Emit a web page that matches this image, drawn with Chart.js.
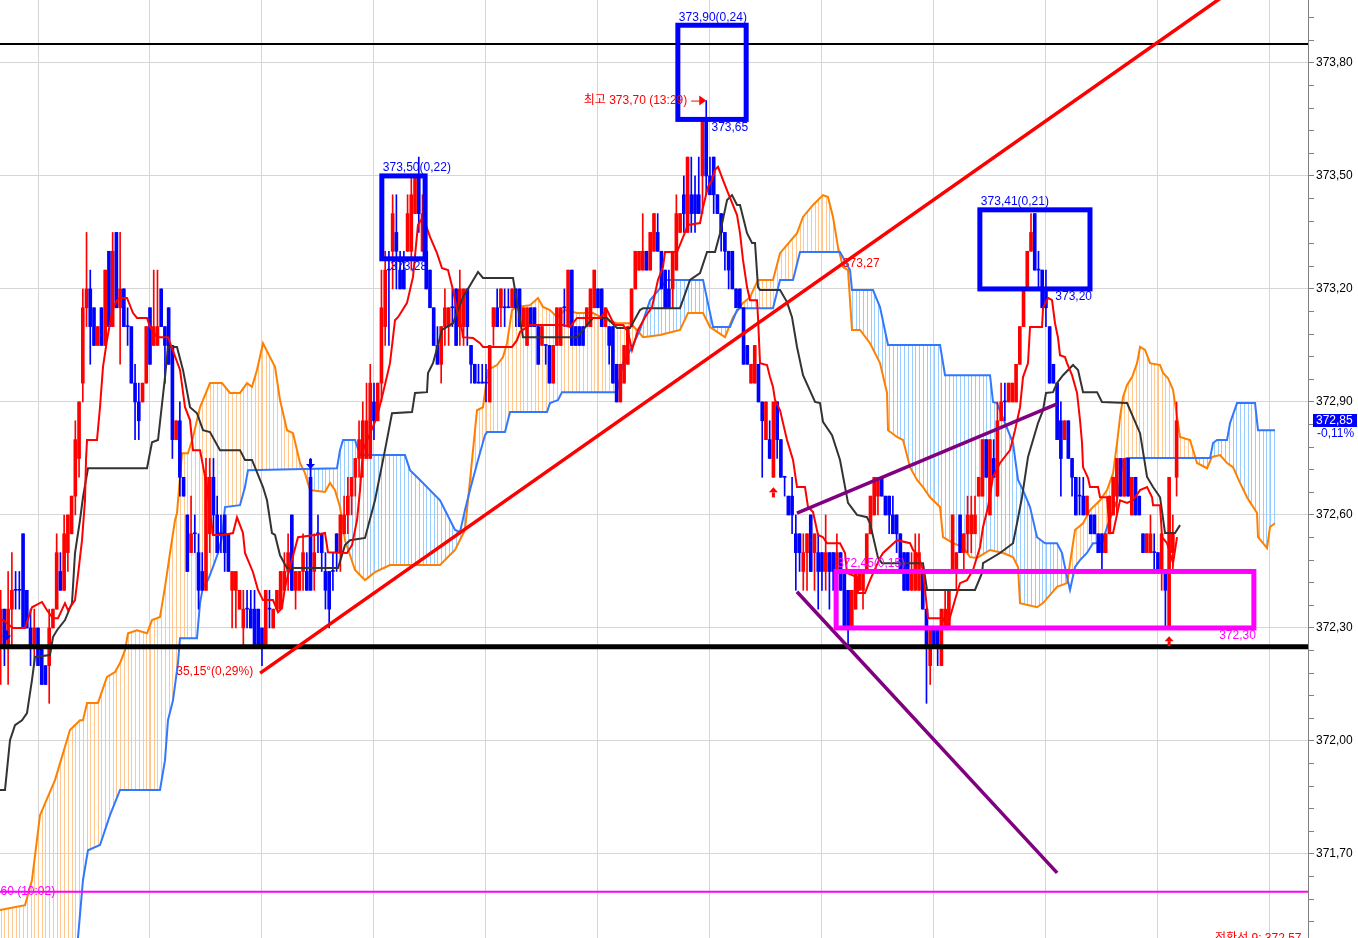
<!DOCTYPE html>
<html>
<head>
<meta charset="utf-8">
<script src="https://cdn.jsdelivr.net/npm/chart.js@4.4.1/dist/chart.umd.min.js"></script>
<style>
  html, body { margin: 0; padding: 0; background: #fff; overflow: hidden; }
  #wrap { width: 1358px; height: 938px; position: relative; }
</style>
</head>
<body>
<div id="wrap"><canvas id="chart"></canvas></div>
<script>
// one bar per minute, bar 0 = 10:20, vertical grid every 30 bars
const opens = [
  372.25,372.35,372.25,372.35,372.40,372.40,372.55,372.40,372.30,372.25,
  372.30,372.25,372.20,372.20,372.30,372.35,372.45,372.40,372.50,372.55,
  372.65,372.75,372.95,373.15,373.20,373.15,373.05,373.15,373.05,373.30,
  373.10,373.35,373.15,373.20,373.10,373.10,372.95,372.90,372.90,372.95,
  373.15,373.05,373.05,373.20,373.10,373.15,373.05,372.80,372.85,372.70,
  372.60,372.50,372.55,372.50,372.45,372.40,372.55,372.70,372.60,372.55,
  372.60,372.55,372.40,372.40,372.35,372.30,372.35,372.35,372.35,372.35,
  372.30,372.25,372.35,372.30,372.35,372.35,372.40,372.45,372.60,372.40,
  372.40,372.45,372.45,372.70,372.45,372.55,372.55,372.45,372.45,372.45,
  372.55,372.50,372.55,372.60,372.65,372.70,372.75,372.75,372.75,372.75,
  372.90,372.85,372.95,373.10,373.25,373.30,373.35,373.25,373.25,373.30,
  373.30,373.40,373.50,373.30,373.30,373.25,373.15,373.05,373.00,373.10,
  373.10,373.15,373.20,373.10,373.10,373.20,373.05,373.00,372.95,372.95,
  372.95,372.90,373.10,373.15,373.15,373.15,373.15,373.15,373.20,373.20,
  373.10,373.05,373.15,373.15,373.10,373.05,373.05,373.05,372.95,373.05,
  373.05,373.15,373.10,373.25,373.10,373.10,373.10,373.10,373.10,373.15,
  373.20,373.20,373.10,373.10,373.10,373.00,372.90,372.95,373.00,373.10,
  373.20,373.25,373.25,373.30,373.25,373.30,373.35,373.30,373.25,373.20,
  373.20,373.25,373.35,373.45,373.35,373.45,373.45,373.45,373.50,373.65,
  373.50,373.55,373.45,373.40,373.35,373.30,373.30,373.20,373.20,373.15,
  373.05,372.95,372.95,373.00,372.90,372.80,372.80,372.70,372.90,372.80,
  372.70,372.65,372.65,372.55,372.55,372.45,372.50,372.60,372.50,372.50,
  372.50,372.45,372.50,372.50,372.45,372.50,372.45,372.40,372.30,372.35,
  372.40,372.40,372.45,372.55,372.60,372.65,372.70,372.65,372.65,372.60,
  372.60,372.55,372.50,372.50,372.40,372.40,372.40,372.45,372.35,372.20,
  372.30,372.30,372.20,372.30,372.30,372.45,372.45,372.60,372.50,372.55,
  372.55,372.55,372.65,372.65,372.80,372.60,372.75,372.65,372.85,372.90,
  372.90,372.90,372.90,373.00,373.10,373.20,373.30,373.40,373.25,373.25,
  373.20,373.10,373.00,372.95,372.85,372.80,372.85,372.75,372.70,372.65,
  372.65,372.60,372.60,372.60,372.55,372.55,372.50,372.55,372.60,372.65,
  372.75,372.65,372.75,372.60,372.70,372.65,372.55,372.50,372.50,372.50,
  372.50,372.45,372.45,372.30,372.50,372.70
];
const highs = [
  372.40,372.35,372.45,372.50,372.45,372.45,372.55,372.40,372.35,372.35,
  372.30,372.25,372.20,372.35,372.35,372.55,372.50,372.60,372.60,372.65,
  372.85,372.90,373.20,373.35,373.25,373.15,373.10,373.15,373.25,373.30,
  373.35,373.35,373.35,373.20,373.15,373.10,373.00,372.95,372.95,373.10,
  373.15,373.25,373.25,373.20,373.10,373.15,373.05,372.85,372.90,372.70,
  372.60,372.65,372.60,372.55,372.50,372.75,372.75,372.75,372.65,372.60,
  372.60,372.55,372.45,372.45,372.40,372.40,372.40,372.40,372.40,372.35,
  372.30,372.40,372.40,372.35,372.40,372.45,372.50,372.55,372.60,372.45,
  372.45,372.55,372.50,372.75,372.55,372.60,372.55,372.50,372.45,372.50,
  372.55,372.60,372.65,372.70,372.70,372.75,372.85,372.90,372.95,373.00,
  372.95,372.95,373.25,373.30,373.30,373.45,373.45,373.30,373.30,373.45,
  373.50,373.50,373.55,373.45,373.35,373.25,373.15,373.10,373.10,373.20,
  373.15,373.20,373.20,373.25,373.20,373.20,373.05,373.00,373.00,373.00,
  373.00,373.05,373.15,373.20,373.20,373.20,373.20,373.20,373.20,373.20,
  373.15,373.15,373.15,373.15,373.10,373.10,373.05,373.05,373.05,373.15,
  373.15,373.20,373.25,373.25,373.10,373.10,373.10,373.15,373.20,373.25,
  373.20,373.20,373.15,373.10,373.10,373.00,373.00,373.05,373.10,373.20,
  373.30,373.30,373.40,373.30,373.35,373.40,373.40,373.30,373.25,373.25,
  373.30,373.45,373.40,373.50,373.55,373.55,373.50,373.55,373.65,373.70,
  373.55,373.55,373.45,373.40,373.35,373.30,373.30,373.20,373.20,373.15,
  373.05,373.00,373.05,373.00,372.90,372.90,372.85,372.90,372.90,372.80,
  372.70,372.65,372.70,372.60,372.55,372.55,372.55,372.60,372.55,372.55,
  372.50,372.60,372.50,372.50,372.55,372.50,372.45,372.40,372.40,372.45,
  372.45,372.45,372.55,372.65,372.70,372.70,372.70,372.65,372.65,372.65,
  372.60,372.55,372.50,372.50,372.50,372.55,372.55,372.45,372.35,372.30,
  372.30,372.30,372.35,372.40,372.40,372.60,372.50,372.60,372.55,372.65,
  372.65,372.65,372.70,372.80,372.80,372.80,372.80,372.90,372.95,372.95,
  372.95,372.95,373.00,373.10,373.20,373.30,373.40,373.40,373.30,373.25,
  373.25,373.10,373.00,372.95,372.90,372.85,372.85,372.75,372.70,372.70,
  372.70,372.65,372.60,372.60,372.55,372.55,372.55,372.65,372.70,372.75,
  372.75,372.75,372.75,372.70,372.70,372.65,372.55,372.55,372.60,372.55,
  372.50,372.55,372.45,372.70,372.60,372.90
];
const lows = [
  372.15,372.20,372.15,372.25,372.35,372.35,372.30,372.30,372.20,372.20,
  372.20,372.15,372.15,372.10,372.30,372.35,372.40,372.40,372.45,372.55,
  372.60,372.70,372.90,373.10,373.00,373.05,373.05,373.05,373.05,373.10,
  373.10,373.15,373.00,373.10,373.05,372.95,372.80,372.80,372.90,372.95,
  373.00,373.05,373.05,373.10,372.95,373.00,372.75,372.80,372.65,372.65,
  372.45,372.50,372.50,372.35,372.40,372.40,372.50,372.55,372.50,372.50,
  372.45,372.45,372.30,372.30,372.35,372.25,372.30,372.30,372.25,372.25,
  372.20,372.25,372.30,372.30,372.35,372.35,372.40,372.40,372.40,372.35,
  372.40,372.40,372.40,372.40,372.40,372.50,372.45,372.35,372.30,372.40,
  372.45,372.45,372.55,372.55,372.60,372.65,372.70,372.70,372.75,372.75,
  372.80,372.85,372.90,373.05,373.05,373.20,373.20,373.20,373.20,373.30,
  373.25,373.40,373.35,373.30,373.20,373.15,373.05,373.00,372.95,373.05,
  373.05,373.10,373.05,373.05,373.05,373.05,372.95,372.95,372.95,372.95,
  372.90,372.90,373.05,373.10,373.10,373.10,373.15,373.15,373.10,373.10,
  373.10,373.05,373.10,373.10,373.00,373.05,373.00,372.95,372.95,373.05,
  373.05,373.10,373.10,373.05,373.05,373.05,373.05,373.10,373.10,373.15,
  373.15,373.10,373.10,373.00,372.95,372.90,372.90,372.95,373.00,373.10,
  373.20,373.25,373.25,373.25,373.25,373.30,373.30,373.20,373.15,373.15,
  373.15,373.25,373.35,373.35,373.35,373.35,373.35,373.40,373.40,373.45,
  373.45,373.40,373.40,373.30,373.25,373.20,373.20,373.15,373.15,373.00,
  373.00,372.95,372.95,372.90,372.70,372.80,372.75,372.70,372.75,372.70,
  372.65,372.60,372.55,372.40,372.45,372.40,372.40,372.45,372.40,372.35,
  372.40,372.40,372.35,372.40,372.45,372.40,372.30,372.25,372.30,372.35,
  372.40,372.35,372.45,372.55,372.60,372.60,372.65,372.60,372.55,372.55,
  372.50,372.45,372.40,372.40,372.40,372.40,372.40,372.35,372.10,372.15,
  372.25,372.20,372.20,372.30,372.30,372.45,372.40,372.50,372.45,372.50,
  372.50,372.55,372.65,372.65,372.70,372.60,372.70,372.65,372.85,372.85,
  372.90,372.90,372.90,373.00,373.10,373.20,373.30,373.25,373.20,373.15,
  373.10,372.95,372.95,372.80,372.65,372.80,372.75,372.65,372.60,372.60,
  372.60,372.60,372.55,372.55,372.50,372.45,372.50,372.55,372.60,372.60,
  372.65,372.65,372.65,372.60,372.60,372.60,372.50,372.50,372.50,372.45,
  372.45,372.40,372.30,372.30,372.45,372.65
];
const closes = [
  372.35,372.25,372.35,372.40,372.40,372.40,372.30,372.30,372.25,372.30,
  372.20,372.15,372.15,372.30,372.35,372.50,372.40,372.55,372.60,372.65,
  372.80,372.90,373.15,373.20,373.10,373.05,373.10,373.05,373.25,373.10,
  373.30,373.15,373.20,373.10,373.10,372.95,372.90,372.85,372.95,373.10,
  373.00,373.10,373.10,373.10,373.05,373.00,372.80,372.85,372.70,372.65,
  372.45,372.55,372.55,372.40,372.40,372.70,372.70,372.60,372.50,372.55,
  372.50,372.45,372.45,372.45,372.40,372.35,372.35,372.30,372.25,372.25,
  372.25,372.40,372.35,372.35,372.40,372.45,372.45,372.50,372.40,372.45,
  372.45,372.50,372.40,372.40,372.50,372.55,372.50,372.40,372.35,372.45,
  372.50,372.60,372.60,372.65,372.70,372.75,372.80,372.85,372.85,372.95,
  372.85,372.95,373.15,373.25,373.25,373.40,373.30,373.20,373.20,373.40,
  373.45,373.50,373.40,373.40,373.20,373.15,373.05,373.00,373.10,373.15,
  373.15,373.15,373.05,373.20,373.20,373.10,373.00,372.95,372.95,372.95,
  372.95,373.05,373.15,373.10,373.20,373.15,373.15,373.20,373.15,373.10,
  373.15,373.15,373.10,373.10,373.00,373.10,373.05,372.95,373.05,373.15,
  373.15,373.15,373.25,373.05,373.05,373.05,373.05,373.15,373.20,373.25,
  373.15,373.10,373.15,373.05,372.95,372.90,373.00,373.05,373.10,373.20,
  373.30,373.30,373.30,373.25,373.35,373.40,373.30,373.20,373.15,373.15,
  373.30,373.40,373.40,373.40,373.55,373.40,373.40,373.40,373.65,373.50,
  373.45,373.45,373.40,373.35,373.30,373.25,373.20,373.15,373.15,373.00,
  373.00,373.00,373.05,372.90,372.85,372.90,372.75,372.90,372.80,372.70,
  372.70,372.60,372.60,372.50,372.50,372.50,372.55,372.45,372.55,372.45,
  372.45,372.50,372.45,372.45,372.50,372.40,372.30,372.30,372.40,372.45,
  372.45,372.45,372.55,372.65,372.70,372.70,372.65,372.60,372.60,372.55,
  372.55,372.45,372.40,372.40,372.45,372.50,372.50,372.35,372.25,372.30,
  372.25,372.25,372.35,372.35,372.40,372.60,372.50,372.50,372.55,372.60,
  372.60,372.60,372.70,372.80,372.70,372.80,372.70,372.85,372.90,372.90,
  372.95,372.95,373.00,373.10,373.20,373.30,373.35,373.25,373.25,373.15,
  373.15,372.95,372.95,372.80,372.75,372.85,372.75,372.70,372.60,372.65,
  372.60,372.65,372.55,372.55,372.50,372.50,372.55,372.65,372.70,372.75,
  372.65,372.75,372.65,372.70,372.60,372.60,372.50,372.55,372.55,372.50,
  372.45,372.55,372.40,372.70,372.55,372.85
];

// ichimoku lines: [bar, price]
const tenkanLine = [
  [-0.2,372.321],[0.62,372.321],[3.30,372.300],[6.52,372.300],[8.39,372.355],[11.07,372.369],[12.41,372.347],
  [14.02,372.326],[15.36,372.326],[17.23,372.366],[18.04,372.347],[19.91,372.374],[20.71,372.440],[21.79,372.533],
  [22.59,372.639],[22.86,372.746],[23.13,372.799],[25.80,372.799],[26.61,372.886],[27.41,372.993],[28.48,373.064],
  [29.29,373.109],[30.09,373.149],[31.16,373.170],[31.97,373.176],[33.84,373.176],[35.45,373.136],[36.52,373.123],
  [39.20,373.123],[40.00,373.099],[41.88,373.072],[44.82,373.072],[45.90,373.043],[48.04,372.985],[49.38,372.886],
  [50.72,372.852],[51.52,372.772],[53.40,372.772],[55.27,372.674],[56.88,372.547],[59.56,372.547],[62.24,372.552],
  [63.31,372.594],[64.91,372.552],[65.45,372.499],[67.59,372.448],[68.93,372.401],[70.27,372.374],[72.95,372.374],
  [74.29,372.342],[75.36,372.353],[76.17,372.409],[77.51,372.462],[79.65,372.541],[84.20,372.547],[86.88,372.552],
  [87.68,372.501],[92.77,372.499],[94.11,372.520],[95.45,372.586],[96.26,372.666],[97.06,372.772],[100.81,372.860],
  [102.42,372.924],[104.29,373.003],[105.63,373.117],[106.44,373.125],[108.85,373.163],[110.45,373.232],[111.79,373.370],
  [113.13,373.391],[115.01,373.338],[116.88,373.295],[118.22,373.255],[119.83,373.250],[121.17,373.197],[122.24,373.144],
  [123.58,373.091],[123.85,373.072],[126.53,373.070],[128.40,373.056],[129.20,373.046],[136.97,373.046],[138.31,373.064],
  [139.12,373.086],[141.80,373.104],[150.64,373.104],[152.51,373.099],[154.39,373.123],[160.55,373.123],[162.42,373.144],
  [163.76,373.117],[164.57,373.104],[166.71,373.104],[168.05,373.086],[169.12,373.038],[170.73,373.091],[172.60,373.125],
  [174.48,373.152],[176.08,373.224],[177.42,373.258],[177.96,373.298],[181.18,373.298],[184.12,373.370],[187.34,373.375],
  [188.14,373.417],[189.48,373.471],[190.55,373.489],[191.36,373.516],[192.16,373.524],[193.50,373.489],[194.84,373.455],
  [197.25,373.396],[198.05,373.348],[198.85,373.277],[199.93,373.205],[200.73,373.170],[202.61,373.170],[202.87,373.125],
  [203.41,373.003],[205.28,372.998],[206.09,372.966],[206.89,372.940],[207.43,372.905],[208.77,372.878],[210.64,372.799],
  [212.25,372.746],[213.32,372.674],[215.46,372.674],[216.27,372.621],[217.61,372.608],[218.95,372.547],[220.28,372.541],
  [221.36,372.525],[224.84,372.525],[226.18,372.499],[226.71,372.446],[229.39,372.435],[229.66,372.393],[231.53,372.393],
  [232.88,372.427],[235.55,372.486],[236.36,372.499],[240.11,372.533],[243.59,372.525],[244.39,372.507],[245.73,372.493],
  [247.07,372.454],[247.61,372.401],[248.41,372.326],[252.43,372.326],[253.50,372.300],[254.84,372.347],[256.18,372.393],
  [256.99,372.419],[258.86,372.427],[260.47,372.454],[262.35,372.515],[263.15,372.568],[264.49,372.621],[265.82,372.701],
  [267.70,372.738],[270.38,372.772],[271.72,372.825],[273.06,372.886],[273.86,372.966],[275.20,373.003],[275.74,373.099],
  [278.95,373.099],[279.22,373.149],[280.56,373.176],[281.63,373.170],[282.43,373.109],[283.24,373.070],[283.77,373.024],
  [285.11,373.019],[285.65,373.003],[286.99,372.971],[288.33,372.924],[289.13,372.852],[289.67,372.791],[289.94,372.727],
  [291.28,372.698],[291.81,372.674],[293.96,372.674],[294.49,372.647],[296.37,372.647],[296.64,372.613],[297.17,372.552],
  [297.98,372.552],[299.85,372.639],[301.73,372.632],[303.34,372.639],[305.21,372.666],[307.09,372.674],[308.43,372.647],
  [308.69,372.626],[310.57,372.626],[311.10,372.541],[312.44,372.525],[313.25,372.499],[314.05,372.472],[315.12,372.541]
];
const kijunLine = [
  [-0.2,371.870],[1.16,371.870],[2.50,372.002],[3.84,372.042],[5.71,372.055],[7.05,372.074],[8.39,372.162],
  [9.20,372.223],[13.21,372.228],[14.02,372.276],[15.09,372.294],[17.23,372.321],[19.11,372.366],[19.91,372.499],
  [21.25,372.586],[22.05,372.647],[23.39,372.724],[39.20,372.724],[40.54,372.793],[42.15,372.799],[44.02,372.966],
  [44.82,373.046],[47.23,373.046],[48.84,372.985],[50.72,372.886],[52.59,372.870],[54.20,372.825],[56.07,372.820],
  [58.75,372.772],[64.11,372.772],[65.45,372.746],[67.33,372.746],[70.27,372.674],[71.34,372.639],[72.68,372.552],
  [73.49,372.547],[74.83,372.493],[76.70,372.459],[90.36,372.459],[92.24,372.520],[93.58,372.533],[97.60,372.539],
  [100.27,372.639],[102.95,372.772],[104.83,372.870],[110.19,372.873],[110.99,372.924],[114.20,372.926],[114.47,372.977],
  [115.81,373.003],[118.22,373.091],[121.17,373.109],[123.85,373.178],[127.87,373.245],[129.20,373.229],[137.24,373.229],
  [137.78,373.197],[139.92,373.072],[154.39,373.072],[158.67,373.123],[162.42,373.123],[165.10,373.096],[168.58,373.096],
  [171.26,373.144],[172.07,373.149],[181.98,373.149],[184.66,373.224],[187.34,373.242],[189.22,373.298],[191.36,373.298],
  [192.70,373.348],[194.58,373.436],[195.91,373.449],[197.25,373.423],[198.05,373.423],[199.93,373.348],[201.27,373.322],
  [202.07,373.322],[202.87,373.205],[203.41,373.197],[208.77,373.197],[210.64,373.165],[211.98,373.125],[213.32,373.046],
  [214.93,372.971],[218.15,372.900],[219.48,372.897],[220.28,372.847],[222.70,372.812],[224.84,372.746],[226.98,372.632],
  [229.39,372.600],[232.07,372.594],[232.88,372.578],[235.02,372.486],[236.09,372.472],[247.07,372.472],[248.14,372.401],
  [261.00,372.401],[262.88,372.446],[263.15,372.472],[267.70,372.499],[271.18,372.525],[272.25,372.578],[273.59,372.647],
  [275.20,372.754],[277.88,372.844],[279.22,372.878],[280.02,372.924],[281.90,372.926],[282.97,372.950],[284.58,372.971],
  [287.26,372.998],[288.60,372.985],[289.94,372.926],[293.69,372.926],[295.01,372.900],[301.73,372.897],[305.21,372.817],
  [307.09,372.701],[308.69,372.674],[310.57,372.647],[311.91,372.552],[314.59,372.552],[315.92,372.573]
];
const spanALine = [
  [-0.2,371.551],[6.52,371.564],[8.39,371.631],[10.54,371.803],[14.55,371.896],[18.57,372.029],[21.25,372.055],
  [22.05,372.055],[23.13,372.101],[26.07,372.101],[28.48,372.170],[30.63,372.183],[31.97,372.207],[33.31,372.241],
  [34.11,372.286],[36.52,372.294],[39.20,372.286],[40.54,372.321],[42.68,372.329],[44.02,372.409],[45.36,372.499],
  [46.70,372.586],[47.23,372.605],[48.57,372.764],[50.18,372.764],[51.52,372.807],[53.40,372.886],[56.07,372.950],
  [59.29,372.950],[61.43,372.924],[64.11,372.924],[65.99,372.950],[67.33,372.940],[68.66,372.985],[70.27,373.056],
  [72.15,373.019],[73.49,372.993],[74.83,372.905],[76.70,372.825],[78.31,372.817],[80.18,372.738],[81.52,372.711],
  [82.86,372.666],[86.88,372.661],[88.22,372.685],[89.56,372.666],[90.90,372.621],[92.24,372.533],[94.92,372.454],
  [97.60,372.427],[100.27,372.448],[104.29,372.467],[117.69,372.467],[121.71,372.507],[124.38,372.560],[126.53,372.772],
  [127.60,372.878],[129.20,372.886],[130.54,372.985],[132.95,372.998],[134.56,373.019],[135.63,373.056],[136.97,373.144],
  [138.31,373.152],[141.80,373.157],[143.94,373.176],[145.28,373.152],[147.15,373.144],[149.03,373.125],[151.17,373.144],
  [154.39,373.136],[158.67,373.136],[162.42,373.117],[165.10,373.109],[168.58,373.109],[170.46,373.091],[172.07,373.072],
  [176.62,373.078],[181.98,373.091],[184.12,373.136],[188.14,373.136],[190.01,373.099],[194.03,373.072],[196.17,373.125],
  [198.85,373.163],[200.73,373.178],[202.87,373.224],[206.89,373.224],[208.77,373.295],[213.32,373.348],[214.93,373.391],
  [217.61,373.423],[220.28,373.449],[221.62,373.444],[222.96,373.391],[224.30,373.311],[225.64,373.258],[226.98,373.250],
  [228.05,373.091],[230.20,373.091],[232.88,373.056],[235.55,373.003],[237.43,372.924],[237.70,372.825],[240.11,372.807],
  [241.72,372.799],[243.59,372.727],[245.47,372.693],[247.07,372.674],[248.95,372.647],[251.63,372.621],[252.43,372.541],
  [255.11,372.525],[257.79,372.515],[259.66,372.488],[261.54,372.486],[265.02,372.507],[268.51,372.499],[271.18,372.488],
  [272.52,372.462],[273.06,372.366],[277.61,372.355],[279.22,372.366],[282.97,372.409],[285.65,372.419],[286.45,372.472],
  [287.79,372.560],[289.94,372.578],[291.81,372.613],[294.49,372.639],[296.37,372.666],[297.98,372.711],[299.05,372.791],
  [299.85,372.860],[300.66,372.913],[301.73,372.945],[303.07,372.966],[304.41,373.003],[305.21,373.046],[306.55,373.038],
  [307.89,373.003],[310.57,372.998],[311.37,372.977],[312.71,372.963],[314.05,372.932],[315.12,372.860],[315.92,372.807],
  [318.60,372.799],[320.47,372.738],[323.15,372.724],[324.49,372.754],[326.63,372.759],[328.51,372.738],[330.11,372.727],
  [331.99,372.685],[333.86,372.647],[334.67,372.634],[336.54,372.605],[336.81,372.541],[338.15,372.525],[339.22,372.512],
  [340.02,372.568],[341.36,372.578]
];
const spanBLine = [
  [-0.2,371.350],[19.50,371.350],[20.71,371.477],[22.05,371.631],[23.39,371.710],[26.61,371.724],[29.29,371.803],
  [31.97,371.870],[42.68,371.870],[44.02,371.949],[44.82,372.055],[46.16,372.108],[47.50,372.207],[48.04,372.273],
  [52.59,372.273],[53.40,372.366],[54.20,372.409],[55.54,372.427],[56.88,372.462],[58.22,372.499],[59.29,372.541],
  [60.09,372.621],[64.11,372.626],[65.45,372.674],[66.25,372.719],[90.09,372.724],[90.90,372.772],[91.70,372.799],
  [94.92,372.799],[96.26,372.759],[108.31,372.759],[109.65,372.719],[112.33,372.693],[117.69,372.639],[121.71,372.560],
  [123.05,372.555],[124.38,372.613],[125.72,372.666],[127.87,372.746],[129.74,372.812],[130.28,372.820],[135.10,372.820],
  [136.44,372.873],[146.35,372.873],[147.15,372.897],[149.30,372.905],[150.37,372.926],[165.10,372.926],[166.71,373.003],
  [169.12,373.046],[171.26,373.091],[173.94,373.170],[178.49,373.224],[188.14,373.224],[190.82,373.099],[195.37,373.099],
  [197.25,373.144],[198.05,373.149],[206.89,373.149],[208.77,373.224],[212.25,373.224],[214.12,373.298],[224.84,373.298],
  [227.52,373.250],[228.05,373.197],[233.68,373.197],[235.55,373.152],[237.70,373.051],[251.63,373.051],[252.97,372.971],
  [265.02,372.971],[265.82,372.900],[266.89,372.897],[271.18,372.791],[272.52,372.693],[273.86,372.666],[275.74,372.621],
  [277.61,372.541],[279.76,372.525],[282.97,372.525],[284.31,372.499],[285.65,372.435],[286.45,372.401],[287.79,372.462],
  [289.13,372.480],[290.99,372.499],[292.60,372.525],[295.01,372.525],[296.37,372.568],[299.05,372.639],[300.66,372.746],
  [301.73,372.751],[323.96,372.751],[324.76,372.791],[325.84,372.799],[328.51,372.799],[329.32,372.844],[331.19,372.897],
  [336.01,372.897],[336.81,372.825],[341.36,372.825]
];

// drawn studies
const levelLines = [373.85, 372.25, 371.60];
const redTrend = [[69.5, 372.18], [340, 374.064]];
const purpleUp = [[213.3, 372.605], [283.0, 372.895]];
const purpleDown = [[213.3, 372.396], [283.0, 371.65]];
const blueBoxes = [[181.4, 199.7, 373.65, 373.90], [102.1, 113.7, 373.28, 373.50], [262.3, 291.8, 373.20, 373.41]];
const blueBoxTop = ['373,90(0,24)', '373,50(0,22)', '373,41(0,21)'];
const blueBoxBottom = ['373,65', '373,28', '373,20'];
const pinkBox = [223.8, 335.7, 372.30, 372.45];
const pinkBoxTop = '372,45(0,15)';
const pinkBoxBottom = '372,30';
const upMarks = [[207, 372.66], [313, 372.265]];
const downMarks = [[83, 372.735], [1.6, 372.28]];
const peakPoint = [189, 373.70];
const peakText = '최고 373,70 (13:29)';
const trendText = '35,15°(0,29%)';
const crossPoint = [225.6, 373.266];
const crossText = '373,27';
const lowText = '371,60 (10:02)';
const lowTextPoint = [14.6, 371.60];
const tenkanText = '전환선 9: 372,57';
const tenkanTextPoint = [325.3, 371.49];
const lastPrice = 372.85;
const lastChange = '-0,11%';

const gridBars = [10, 40, 70, 100, 130, 160, 190, 220, 250, 280, 310, 340];
const priceLabels = [371.70, 372.00, 372.30, 372.60, 372.90, 373.20, 373.50, 373.80];

const X_MIN = -0.18, X_MAX = 350.2;
const Y_MIN = 371.477, Y_MAX = 373.967;
const FONT = '12px "Liberation Sans", "Noto Sans CJK KR", sans-serif';

const isMajor = v => priceLabels.some(p => Math.abs(p - v) < 0.001);
const fmt = v => v.toFixed(2).replace('.', ',');
const pts = arr => arr.map(([x, y]) => ({x, y}));
const flat = y => [{x: X_MIN, y}, {x: X_MAX, y}];

// vertical hatching, one line per bar (15 bars = 56 px)
function hatch(color) {
  const c = document.createElement('canvas');
  c.width = 56; c.height = 4;
  const g = c.getContext('2d');
  g.fillStyle = color;
  for (let k = 0; k < 15; k++) g.fillRect(Math.round(k * 56 / 15 + 0.67), 0, 1, 4);
  return g.createPattern(c, 'repeat');
}

const barIdx = opens.map((_, i) => i);
const candleColors = barIdx.map(i => closes[i] > opens[i] ? '#ff0000' : '#0000ff');

const lineBase = {type: 'line', pointRadius: 0, tension: 0, fill: false};

const datasets = [
  {...lineBase, label: 'spanA', data: pts(spanALine), borderColor: '#ff7f00', borderWidth: 2, order: 100,
    fill: {target: 1, above: hatch('#ffc890'), below: hatch('#99ccff')}},
  {...lineBase, label: 'spanB', data: pts(spanBLine), borderColor: '#3377ff', borderWidth: 2, order: 99},
  {type: 'bar', label: 'wick', data: barIdx.map(i => ({x: i, y: [lows[i], highs[i]]})),
    backgroundColor: candleColors, barThickness: 1, grouped: false, order: 80},
  {type: 'bar', label: 'body', data: barIdx.map(i => ({x: i, y: [opens[i], closes[i]]})),
    backgroundColor: candleColors, barThickness: 3, minBarLength: 1, grouped: false, order: 79},
  {...lineBase, label: 'kijun', data: pts(kijunLine), borderColor: '#333333', borderWidth: 2, order: 60},
  {...lineBase, label: 'tenkan', data: pts(tenkanLine), borderColor: '#ff0000', borderWidth: 2, order: 59},
  {...lineBase, data: flat(levelLines[0]), borderColor: '#000000', borderWidth: 2, order: 40},
  {...lineBase, data: flat(levelLines[1]), borderColor: '#000000', borderWidth: 5, order: 40},
  {...lineBase, data: flat(levelLines[2]), borderColor: '#ff00ff', borderWidth: 2, order: 40},
  {...lineBase, data: pts(redTrend), borderColor: '#ff0000', borderWidth: 3.5, order: 30},
  {...lineBase, data: pts(purpleUp), borderColor: '#800080', borderWidth: 3.5, order: 30},
  {...lineBase, data: pts(purpleDown), borderColor: '#800080', borderWidth: 3.5, order: 30}
];

const overlay = {
  id: 'overlay',
  afterDatasetsDraw(chart) {
    const {ctx, chartArea: a} = chart;
    const px = v => chart.scales.x.getPixelForValue(v);
    const py = v => chart.scales.y.getPixelForValue(v);
    ctx.save();
    ctx.beginPath();
    ctx.rect(a.left, a.top, a.right - a.left, a.bottom - a.top);
    ctx.clip();
    ctx.font = FONT;

    function box(b, color, top, bottom) {
      const l = px(b[0]), r = px(b[1]), t = py(b[3]), btm = py(b[2]);
      ctx.strokeStyle = color; ctx.lineWidth = 5; ctx.lineJoin = 'miter';
      ctx.strokeRect(l, t, r - l, btm - t);
      ctx.fillStyle = color;
      ctx.textAlign = 'left'; ctx.textBaseline = 'bottom';
      ctx.fillText(top, l + 1, t - 2);
      ctx.textAlign = 'right'; ctx.textBaseline = 'top';
      ctx.fillText(bottom, r + 2, btm + 2);
    }
    blueBoxes.forEach((b, i) => box(b, '#0000ff', blueBoxTop[i], blueBoxBottom[i]));
    box(pinkBox, '#ff00ff', pinkBoxTop, pinkBoxBottom);

    // markers
    function arrow(x, y, up, color) {
      const d = up ? 1 : -1;
      ctx.fillStyle = color;
      ctx.beginPath();
      ctx.moveTo(x, y - 5 * d);
      ctx.lineTo(x + 4.5, y);
      ctx.lineTo(x - 4.5, y);
      ctx.closePath();
      ctx.fill();
      ctx.fillRect(x - 1.5, up ? y : y - 5, 3, 5);
    }
    upMarks.forEach(([b, p]) => arrow(px(b), py(p), true, '#ff0000'));
    downMarks.forEach(([b, p]) => arrow(px(b), py(p), false, '#0000ff'));

    // peak label with arrow
    const tx = px(peakPoint[0]), ty = py(peakPoint[1]);
    ctx.strokeStyle = '#ff0000'; ctx.fillStyle = '#ff0000'; ctx.lineWidth = 1;
    ctx.beginPath(); ctx.moveTo(tx - 15, ty + 0.5); ctx.lineTo(tx - 6, ty + 0.5); ctx.stroke();
    ctx.beginPath(); ctx.moveTo(tx, ty); ctx.lineTo(tx - 7, ty - 5); ctx.lineTo(tx - 7, ty + 5); ctx.closePath(); ctx.fill();
    ctx.textAlign = 'right'; ctx.textBaseline = 'middle';
    ctx.fillText(peakText, tx - 19, ty);

    ctx.fillText(trendText, px(redTrend[0][0]) - 7, py(redTrend[0][1]) - 1);
    ctx.textAlign = 'left';
    ctx.fillText(crossText, px(crossPoint[0]), py(crossPoint[1]));
    ctx.fillStyle = '#ff00ff'; ctx.textAlign = 'right';
    ctx.fillText(lowText, px(lowTextPoint[0]), py(lowTextPoint[1]));
    ctx.fillStyle = '#ff0000'; ctx.textAlign = 'left'; ctx.textBaseline = 'top';
    ctx.fillText(tenkanText, px(tenkanTextPoint[0]), py(tenkanTextPoint[1]));
    ctx.restore();

    // last price tag on the axis
    ctx.save();
    const ly = py(lastPrice);
    ctx.fillStyle = '#0000ff';
    ctx.fillRect(a.right + 5, Math.round(ly) - 7, 44, 13);
    ctx.font = FONT; ctx.textBaseline = 'middle'; ctx.textAlign = 'left';
    ctx.fillStyle = '#ffffff';
    ctx.fillText(fmt(lastPrice), a.right + 8, ly);
    ctx.fillStyle = '#0000ff';
    ctx.fillText(lastChange, a.right + 9, ly + 13);
    ctx.restore();
  }
};

new Chart(document.getElementById('chart'), {
  type: 'line',
  data: {datasets},
  options: {
    responsive: true,
    maintainAspectRatio: false,
    animation: false,
    devicePixelRatio: 1,
    events: [],
    layout: {padding: 0},
    plugins: {legend: {display: false}, tooltip: {enabled: false}},
    scales: {
      x: {
        type: 'linear', min: X_MIN, max: X_MAX, offset: false,
        afterBuildTicks: s => { s.ticks = gridBars.map(v => ({value: v})); },
        afterFit: s => { s.height = 0; },
        ticks: {display: false},
        grid: {color: '#d6d6d6', drawTicks: false, offset: false},
        border: {display: false}
      },
      y: {
        type: 'linear', position: 'right', min: Y_MIN, max: Y_MAX,
        afterBuildTicks: s => {
          const t = [];
          for (let k = 0; k <= 40; k++) t.push({value: +(371.52 + k * 0.06).toFixed(2)});
          s.ticks = t;
        },
        afterFit: s => { s.width = 50; s.paddingTop = 0; s.paddingBottom = 0; },
        ticks: {
          autoSkip: false, padding: 2, color: '#000000',
          font: {family: '"Liberation Sans", sans-serif', size: 12},
          callback: v => isMajor(v) ? fmt(v) : ''
        },
        grid: {
          color: c => (c.tick && isMajor(c.tick.value)) ? '#d6d6d6' : 'rgba(0,0,0,0)',
          tickColor: '#808080', tickLength: 6
        },
        border: {color: '#808080'}
      }
    }
  },
  plugins: [overlay]
});
</script>
</body>
</html>
